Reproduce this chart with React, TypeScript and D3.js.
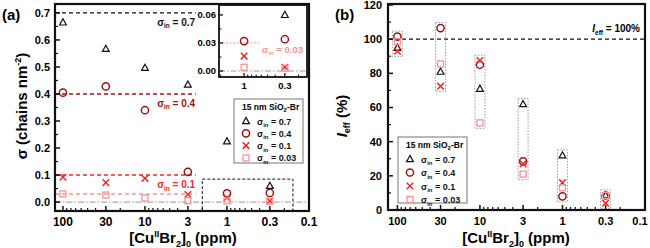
import { range, scaleLog, scaleLinear } from 'd3'

const doses = [100, 30, 10, 3, 1, 0.3]
const xTickValues = [100, 30, 10, 3, 1, 0.3, 0.1]
const seriesKeys = ['0.7', '0.4', '0.1', '0.03']
const seriesKinds = ['triangle', 'circle', 'cross', 'square']
const seriesColors = ['#111111', '#9b1414', '#f02828', '#f49494']

// grafting density, chains nm^-2
const sigma07 = [0.665, 0.567, 0.497, 0.435, 0.225, 0.06]
const sigma04 = [0.405, 0.428, 0.34, 0.112, 0.032, 0.034]
const sigma01 = [0.092, 0.072, 0.088, 0.028, 0.016, 0.004]
const sigma003 = [0.03, 0.026, 0.015, 0.005, 0.004, 0.003]

// initiation efficiency, %
const ieff07 = [95, 81, 71, 62, 32, 8.6]
const ieff04 = [101.5, 106.5, 85, 28.5, 8, 8.5]
const ieff01 = [93, 72.5, 87.5, 27, 16, 4]
const ieff003 = [98.5, 85.5, 51, 21, 13, 8.5]

const sigmaSeries = [sigma07, sigma04, sigma01, sigma003]
const ieffSeries = [ieff07, ieff04, ieff01, ieff003]
const sigmaYTicks = [0, 0.1, 0.2, 0.3, 0.4, 0.5, 0.6, 0.7]
const ieffYTicks = [0, 20, 40, 60, 80, 100, 120]
const insetYTicks = [0, 0.03, 0.06]
const insetXTicks = [1, 0.3]

const font = '"Liberation Sans", Arial, sans-serif'

const minorLog = (lo: number, hi: number) => {
  const out: number[] = []
  for (let e = -2; e <= 2; e++) {
    for (let m = 1; m <= 9; m++) {
      const v = m * Math.pow(10, e)
      if (v > lo && v < hi && m !== 1 && m !== 3) out.push(v)
    }
  }
  return out
}

function Marker({ kind, x, y, color }: { kind: string; x: number; y: number; color: string }) {
  if (kind === 'triangle') {
    return (
      <path
        d={`M${x},${y - 3.6}L${x + 3.4},${y + 2.6}L${x - 3.4},${y + 2.6}Z`}
        fill="none"
        stroke={color}
        strokeWidth={1.2}
      />
    )
  }
  if (kind === 'circle') {
    return <circle cx={x} cy={y} r={3.6} fill="none" stroke={color} strokeWidth={1.5} />
  }
  if (kind === 'cross') {
    return (
      <path
        d={`M${x - 3.3},${y - 3.3}L${x + 3.3},${y + 3.3}M${x + 3.3},${y - 3.3}L${x - 3.3},${y + 3.3}`}
        stroke={color}
        strokeWidth={1.5}
      />
    )
  }
  return <rect x={x - 3} y={y - 3} width={6} height={6} fill="none" stroke={color} strokeWidth={1.3} />
}

function SigmaIn({ x, y, value, color, size = 10, anchor = 'start' }: any) {
  return (
    <text x={x} y={y} fill={color} fontSize={size} fontWeight="bold" textAnchor={anchor}>
      σ
      <tspan fontSize={size * 0.65} dy={2.5}>in</tspan>
      <tspan dy={-2.5}>{` = ${value}`}</tspan>
    </text>
  )
}

function Legend({ x, y, w, h, rowGap }: { x: number; y: number; w: number; h: number; rowGap: number }) {
  return (
    <g>
      <rect x={x} y={y} width={w} height={h} fill="white" stroke="#777" strokeWidth={1} />
      <text x={x + 8} y={y + 11} fontSize={8.5} fontWeight="bold">
        15 nm SiO<tspan fontSize={6} dy={2}>2</tspan>
        <tspan dy={-2}>-Br</tspan>
      </text>
      {seriesKeys.map((key, i) => {
        const cy = y + 19 + 3 + i * rowGap
        return (
          <g key={`leg-${key}`}>
            <Marker kind={seriesKinds[i]} x={x + 12} y={cy} color={seriesColors[i]} />
            <SigmaIn x={x + 23} y={cy + 3.5} value={key} color="#111" size={9} />
          </g>
        )
      })}
    </g>
  )
}

function XTitle({ x, y }: { x: number; y: number }) {
  return (
    <text x={x} y={y} fontSize={15} fontWeight="bold" textAnchor="middle">
      [Cu<tspan fontSize={9} dy={-6}>II</tspan>
      <tspan dy={6}>Br</tspan>
      <tspan fontSize={9} dy={4}>2</tspan>
      <tspan dy={-4}>]</tspan>
      <tspan fontSize={9} dy={4}>0</tspan>
      <tspan dy={-4}> (ppm)</tspan>
    </text>
  )
}

function PanelA() {
  const left = 55
  const right = 309
  const top = 4
  const bottom = 211
  const x = scaleLog().domain([125, 0.1]).range([left, right])
  const y = scaleLinear().domain([-0.033, 0.733]).range([bottom, top])

  const ix = scaleLog().domain([2.1, 0.156]).range([219, 307])
  const iy = scaleLinear().domain([-0.0064, 0.0706]).range([77, 5])

  const refLines = [
    { value: 0.7, color: '#111', label: '0.7' },
    { value: 0.4, color: '#9b1414', label: '0.4' },
    { value: 0.1, color: '#f02828', label: '0.1' },
    { value: 0.03, color: '#f49494', label: '' },
  ]

  const minorY = range(0.05, 0.7, 0.1)
  const insetMinorY = [0.015, 0.045]

  return (
    <g>
      <text x={2} y={20} fontSize={15} fontWeight="bold">(a)</text>

      <line x1={left} x2={right} y1={y(0)} y2={y(0)} stroke="#999" strokeWidth={1} strokeDasharray="6 2 1.5 2" />
      {refLines.map((r) => (
        <g key={`ref-${r.value}`}>
          <line
            x1={left}
            x2={x(2.4)}
            y1={y(r.value)}
            y2={y(r.value)}
            stroke={r.color}
            strokeWidth={1.4}
            strokeDasharray="4 3"
          />
          {r.label && (
            <SigmaIn x={x(2.45)} y={y(r.value) + 13} value={r.label} color={r.color} anchor="end" />
          )}
        </g>
      ))}

      {sigmaSeries.map((values, si) =>
        values.map((v, di) => (
          <Marker
            key={`a-${si}-${di}`}
            kind={seriesKinds[si]}
            x={x(doses[di])}
            y={y(v)}
            color={seriesColors[si]}
          />
        )),
      )}

      <rect
        x={x(2.0)}
        y={y(0.085)}
        width={x(0.157) - x(2.0)}
        height={bottom - y(0.085)}
        fill="none"
        stroke="#111"
        strokeWidth={1}
        strokeDasharray="3 2"
      />

      {sigmaYTicks.map((t) => (
        <g key={`ay-${t}`}>
          <line x1={left} x2={left + 5} y1={y(t)} y2={y(t)} stroke="#111" strokeWidth={1.5} />
          <text x={left - 5} y={y(t)} dy="0.35em" fontSize={11} fontWeight="bold" textAnchor="end">
            {t.toFixed(1)}
          </text>
        </g>
      ))}
      {minorY.map((t) => (
        <line key={`aym-${t}`} x1={left} x2={left + 3} y1={y(t)} y2={y(t)} stroke="#111" strokeWidth={1.2} />
      ))}
      {xTickValues.map((t) => (
        <g key={`ax-${t}`}>
          <line x1={x(t)} x2={x(t)} y1={bottom} y2={bottom - 5} stroke="#111" strokeWidth={1.5} />
          <text x={x(t)} y={bottom + 15} fontSize={12} fontWeight="bold" textAnchor="middle">
            {t}
          </text>
        </g>
      ))}
      {minorLog(0.1, 125).map((t) => (
        <line key={`axm-${t}`} x1={x(t)} x2={x(t)} y1={bottom} y2={bottom - 3} stroke="#111" strokeWidth={1.2} />
      ))}

      <rect x={left} y={top} width={right - left} height={bottom - top} fill="none" stroke="#111" strokeWidth={2.2} />

      {/* inset: zoom on the low-dose region */}
      <rect x={219} y={5} width={88} height={72} fill="white" stroke="#111" strokeWidth={1.8} />
      <line x1={219} x2={307} y1={iy(0)} y2={iy(0)} stroke="#999" strokeWidth={1} strokeDasharray="6 2 1.5 2" />
      <line x1={219} x2={ix(0.62)} y1={iy(0.03)} y2={iy(0.03)} stroke="#f49494" strokeWidth={1} strokeDasharray="2 1.5" />
      <SigmaIn x={303} y={iy(0.03) + 10} value="0.03" color="#f49494" anchor="end" size={9.5} />
      {sigmaSeries.map((values, si) =>
        values.map((v, di) =>
          doses[di] <= 1 && v < 0.07 ? (
            <Marker
              key={`i-${si}-${di}`}
              kind={seriesKinds[si]}
              x={ix(doses[di])}
              y={iy(v)}
              color={seriesColors[si]}
            />
          ) : null,
        ),
      )}
      {insetYTicks.map((t) => (
        <g key={`iy-${t}`}>
          <line x1={219} x2={223} y1={iy(t)} y2={iy(t)} stroke="#111" strokeWidth={1.3} />
          <text x={216} y={iy(t)} dy="0.35em" fontSize={9.5} fontWeight="bold" textAnchor="end">
            {t.toFixed(2)}
          </text>
        </g>
      ))}
      {insetMinorY.map((t) => (
        <line key={`iym-${t}`} x1={219} x2={221.5} y1={iy(t)} y2={iy(t)} stroke="#111" strokeWidth={1} />
      ))}
      {insetXTicks.map((t) => (
        <g key={`ix-${t}`}>
          <line x1={ix(t)} x2={ix(t)} y1={77} y2={73} stroke="#111" strokeWidth={1.3} />
          <text x={ix(t)} y={89} fontSize={9.5} fontWeight="bold" textAnchor="middle">
            {t}
          </text>
        </g>
      ))}
      {minorLog(0.156, 2.1).map((t) => (
        <line key={`ixm-${t}`} x1={ix(t)} x2={ix(t)} y1={77} y2={74.5} stroke="#111" strokeWidth={1} />
      ))}

      <Legend x={234} y={99} w={69} h={64} rowGap={12.3} />

      <text transform="translate(27, 106) rotate(-90)" fontSize={15} fontWeight="bold" textAnchor="middle">
        σ (chains nm<tspan fontSize={9} dy={-6}>-2</tspan>
        <tspan dy={6}>)</tspan>
      </text>
      <XTitle x={183} y={243} />
    </g>
  )
}

function PanelB() {
  const left = 388
  const right = 645
  const top = 4
  const bottom = 210
  const x = scaleLog().domain([130, 0.1]).range([left, right])
  const y = scaleLinear().domain([0, 120]).range([bottom, 5])
  const minorY = range(10, 120, 20)

  return (
    <g>
      <text x={335} y={20} fontSize={15} fontWeight="bold">(b)</text>

      <line x1={left} x2={right} y1={y(100)} y2={y(100)} stroke="#111" strokeWidth={1.4} strokeDasharray="4 3" />
      <text x={640} y={y(100) - 7} fontSize={10} fontWeight="bold" textAnchor="end">
        <tspan fontStyle="italic">I</tspan>
        <tspan fontSize={6.5} dy={2.5}>eff</tspan>
        <tspan dy={-2.5}> = 100%</tspan>
      </text>

      {doses.map((d, di) => {
        const vals = ieffSeries.map((s) => s[di])
        const yTop = y(Math.max(...vals)) - 5.5
        const yBot = Math.min(y(Math.min(...vals)) + 5.5, bottom)
        return (
          <rect
            key={`box-${d}`}
            x={x(d) - 5}
            y={yTop}
            width={10}
            height={yBot - yTop}
            fill="none"
            stroke="#999"
            strokeWidth={1}
            strokeDasharray="1.5 1.5"
          />
        )
      })}

      {ieffSeries.map((values, si) =>
        values.map((v, di) => (
          <Marker
            key={`b-${si}-${di}`}
            kind={seriesKinds[si]}
            x={x(doses[di])}
            y={y(v)}
            color={seriesColors[si]}
          />
        )),
      )}

      {ieffYTicks.map((t) => (
        <g key={`by-${t}`}>
          <line x1={left} x2={left + 5} y1={y(t)} y2={y(t)} stroke="#111" strokeWidth={1.5} />
          <text x={left - 6} y={y(t)} dy="0.35em" fontSize={11} fontWeight="bold" textAnchor="end">
            {t}
          </text>
        </g>
      ))}
      {minorY.map((t) => (
        <line key={`bym-${t}`} x1={left} x2={left + 3} y1={y(t)} y2={y(t)} stroke="#111" strokeWidth={1.2} />
      ))}
      {xTickValues.map((t) => (
        <g key={`bx-${t}`}>
          <line x1={x(t)} x2={x(t)} y1={bottom} y2={bottom - 5} stroke="#111" strokeWidth={1.5} />
          <text
            x={Math.min(x(t), 640)}
            y={bottom + 15}
            fontSize={11}
            fontWeight="bold"
            textAnchor="middle"
          >
            {t}
          </text>
        </g>
      ))}
      {minorLog(0.1, 130).map((t) => (
        <line key={`bxm-${t}`} x1={x(t)} x2={x(t)} y1={bottom} y2={bottom - 3} stroke="#111" strokeWidth={1.2} />
      ))}

      <rect x={left} y={top} width={right - left} height={bottom - top} fill="none" stroke="#111" strokeWidth={2.2} />

      <Legend x={398} y={137} w={69} h={66} rowGap={13.5} />

      <text transform="translate(347, 116) rotate(-90)" fontSize={15} fontWeight="bold" textAnchor="middle">
        <tspan fontStyle="italic">I</tspan>
        <tspan fontSize={9} dy={3}>eff</tspan>
        <tspan dy={-3}> (%)</tspan>
      </text>
      <XTitle x={516} y={243} />
    </g>
  )
}

export default function App() {
  return (
    <svg
      width={650}
      height={248}
      viewBox="0 0 650 248"
      style={{ position: 'absolute', left: 0, top: 0, background: 'white' }}
      fontFamily={font}
    >
      <PanelA />
      <PanelB />
    </svg>
  )
}
